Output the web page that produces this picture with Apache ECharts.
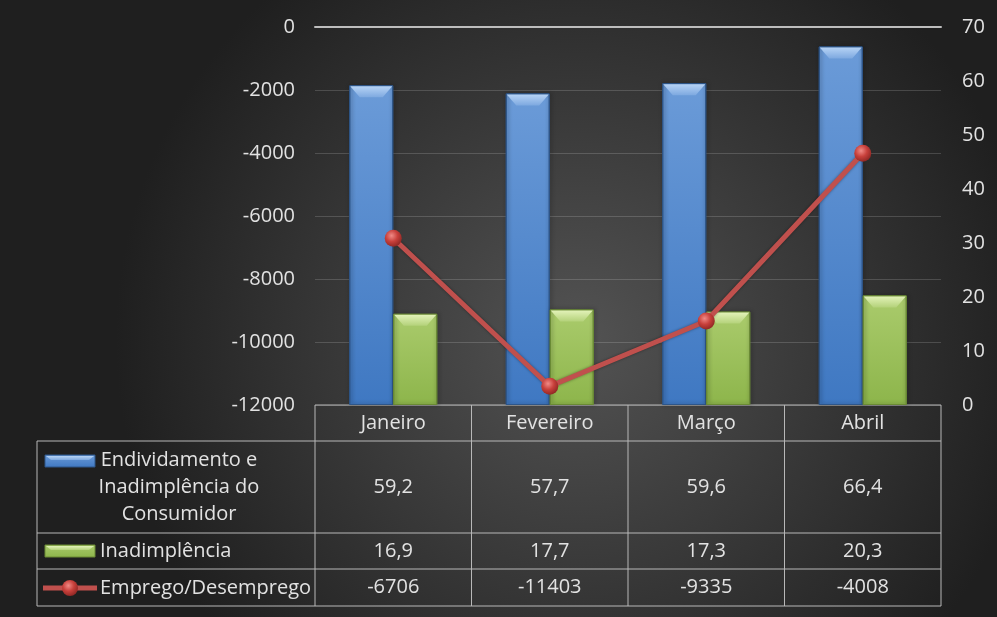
<!DOCTYPE html>
<html>
<head>
<meta charset="utf-8">
<script src="https://cdn.jsdelivr.net/npm/echarts@6/dist/echarts.min.js"></script>
<style>
    html, body { margin: 0; padding: 0; background: #2a2a2a; }
    #chart { width: 997px; height: 617px; }
</style>
</head>
<body>
<div id="chart"></div>
<script>
//categories and series values
const categories = ["Janeiro", "Fevereiro", "Março", "Abril"];
const endividamento = [59.2, 57.7, 59.6, 66.4];
const inadimplencia = [16.9, 17.7, 17.3, 20.3];
const emprego = [-6706, -11403, -9335, -4008];
const seriesNames = ["Endividamento e Inadimplência do Consumidor", "Inadimplência", "Emprego/Desemprego"];
const rowLabels = [["Endividamento e", "Inadimplência do", "Consumidor"], ["Inadimplência"], ["Emprego/Desemprego"]];

//axis ranges
const leftAxis = { min: -12000, max: 0, interval: 2000 };
const rightAxis = { min: 0, max: 70, interval: 10 };

const font = "'Open Sans', sans-serif";
const fontSize = 20;
const textColor = "#e2e2e2";
const tableLine = "#b8b8b8";

//decimal comma like the source sheet
const fmt = v => String(v).replace(".", ",");

const vgrad = (a, b) => new echarts.graphic.LinearGradient(0, 0, 0, 1, [
    { offset: 0, color: a }, { offset: 1, color: b }
]);
const sphere = new echarts.graphic.RadialGradient(0.4, 0.35, 0.7, [
    { offset: 0, color: "#f08a86" },
    { offset: 0.5, color: "#c8403b" },
    { offset: 1, color: "#8a2522" }
]);

const blueFill = vgrad("#6b9bd8", "#3f78c2");
const greenFill = vgrad("#aacb6c", "#8db54b");
const blueBevel = vgrad("#b6d3f5", "#7ea9e0");
const greenBevel = vgrad("#e2f2b8", "#b4d27a");
const bevelPath = "path://M0,0L44,0L34,10L10,10Z";

const chart = echarts.init(document.getElementById("chart"));

const option = {
    backgroundColor: new echarts.graphic.RadialGradient(0.58, 0.55, 0.75, [
        { offset: 0, color: "#535353" },
        { offset: 1, color: "#1f1f1f" }
    ]),
    animation: false,
    grid: { left: 315, right: 56, top: 27, bottom: 212 },
    xAxis: {
        type: "category",
        data: categories,
        position: "top",
        axisLine: { show: true, lineStyle: { color: "#bdbdbd", width: 2 } },
        axisTick: { show: false },
        axisLabel: { show: false },
        splitLine: { show: false }
    },
    yAxis: [
        {
            type: "value",
            min: leftAxis.min,
            max: leftAxis.max,
            interval: leftAxis.interval,
            axisLine: { show: false },
            axisTick: { show: false },
            axisLabel: { color: textColor, fontFamily: font, fontSize: fontSize, margin: 20, formatter: v => String(v) },
            splitLine: { lineStyle: { color: "rgba(255,255,255,0.16)", width: 1 } }
        },
        {
            type: "value",
            min: rightAxis.min,
            max: rightAxis.max,
            interval: rightAxis.interval,
            axisLine: { show: false },
            axisTick: { show: false },
            axisLabel: { color: textColor, fontFamily: font, fontSize: fontSize, margin: 21 },
            splitLine: { show: false }
        }
    ],
    series: [
        {
            name: seriesNames[0],
            type: "bar",
            yAxisIndex: 1,
            data: endividamento,
            barWidth: 44,
            barGap: "0%",
            itemStyle: {
                color: blueFill,
                borderColor: "#2e5689",
                borderWidth: 1,
                shadowColor: "rgba(0,0,0,0.45)",
                shadowBlur: 4,
                shadowOffsetX: 1
            }
        },
        {
            name: seriesNames[1],
            type: "bar",
            yAxisIndex: 1,
            data: inadimplencia,
            barWidth: 44,
            barGap: "0%",
            itemStyle: {
                color: greenFill,
                borderColor: "#6a8a35",
                borderWidth: 1,
                shadowColor: "rgba(0,0,0,0.45)",
                shadowBlur: 4,
                shadowOffsetX: 1
            }
        },
        //top bevels of the bars
        {
            type: "pictorialBar",
            yAxisIndex: 1,
            data: endividamento,
            barWidth: 44,
            barGap: "0%",
            symbol: bevelPath,
            symbolSize: [42, 11],
            symbolPosition: "end",
            symbolOffset: [0, 1],
            itemStyle: { color: blueBevel },
            silent: true,
            z: 3
        },
        {
            type: "pictorialBar",
            yAxisIndex: 1,
            data: inadimplencia,
            barWidth: 44,
            barGap: "0%",
            symbol: bevelPath,
            symbolSize: [42, 11],
            symbolPosition: "end",
            symbolOffset: [0, 1],
            itemStyle: { color: greenBevel },
            silent: true,
            z: 3
        },
        {
            name: seriesNames[2],
            type: "line",
            yAxisIndex: 0,
            data: emprego,
            symbol: "circle",
            symbolSize: 17,
            lineStyle: { color: "#c0504d", width: 5, shadowColor: "rgba(0,0,0,0.4)", shadowBlur: 3 },
            itemStyle: { color: sphere, borderWidth: 0 },
            z: 5
        }
    ]
};

chart.setOption(option);

//data table under the plot, columns taken from the category axis
const band = (chart.convertToPixel({ xAxisIndex: 0 }, categories[1]) -
              chart.convertToPixel({ xAxisIndex: 0 }, categories[0]));
const centers = categories.map(c => chart.convertToPixel({ xAxisIndex: 0 }, c));
const colLeft = centers[0] - band / 2;
const colRight = centers[centers.length - 1] + band / 2;
const tableLeft = 37;
const rowEdges = [405, 441, 533, 569, 606];
const rowValues = [endividamento.map(fmt), inadimplencia.map(fmt), emprego.map(String)];

const table = [];
const hline = (x1, x2, y) => table.push({ type: "line", shape: { x1, y1: y, x2, y2: y }, style: { stroke: tableLine, lineWidth: 1 } });
const vline = (x, y1, y2) => table.push({ type: "line", shape: { x1: x, y1, x2: x, y2 }, style: { stroke: tableLine, lineWidth: 1 } });
const txt = (x, y, s, align) => table.push({
    type: "text", x, y,
    style: { text: s, fill: textColor, font: `${fontSize}px ${font}`, align: align || "center", verticalAlign: "middle" }
});

hline(colLeft, colRight, rowEdges[0]);
rowEdges.slice(1).forEach(y => hline(tableLeft, colRight, y));
vline(tableLeft, rowEdges[1], rowEdges[4]);
centers.forEach((c, i) => vline(c - band / 2, rowEdges[0], rowEdges[4]));
vline(colRight, rowEdges[0], rowEdges[4]);

//header row
centers.forEach((c, i) => txt(c, (rowEdges[0] + rowEdges[1]) / 2, categories[i]));

//value rows
rowValues.forEach((vals, r) => {
    const yMid = (rowEdges[r + 1] + rowEdges[r + 2]) / 2;
    vals.forEach((v, i) => txt(centers[i], yMid, v));
});

//row labels with legend keys
txt(179, 460, rowLabels[0][0]);
txt(179, 487, rowLabels[0][1]);
txt(179, 514, rowLabels[0][2]);
txt(100, 551, rowLabels[1][0], "left");
txt(100, 588, rowLabels[2][0], "left");

const key = (y, fill, bevel, stroke) => {
    table.push({ type: "rect", shape: { x: 45, y, width: 50, height: 12 }, style: { fill, stroke, lineWidth: 1 } });
    table.push({ type: "polygon", shape: { points: [[46, y + 1], [94, y + 1], [89, y + 5], [51, y + 5]] }, style: { fill: bevel } });
};
key(455, blueFill, blueBevel, "#2e5689");
key(545, greenFill, greenBevel, "#6a8a35");
table.push({ type: "line", shape: { x1: 43, y1: 588, x2: 97, y2: 588 }, style: { stroke: "#c0504d", lineWidth: 5 } });
table.push({ type: "circle", shape: { cx: 70, cy: 588, r: 8 }, style: { fill: sphere } });

chart.setOption({ graphic: { elements: table } });
</script>
</body>
</html>
